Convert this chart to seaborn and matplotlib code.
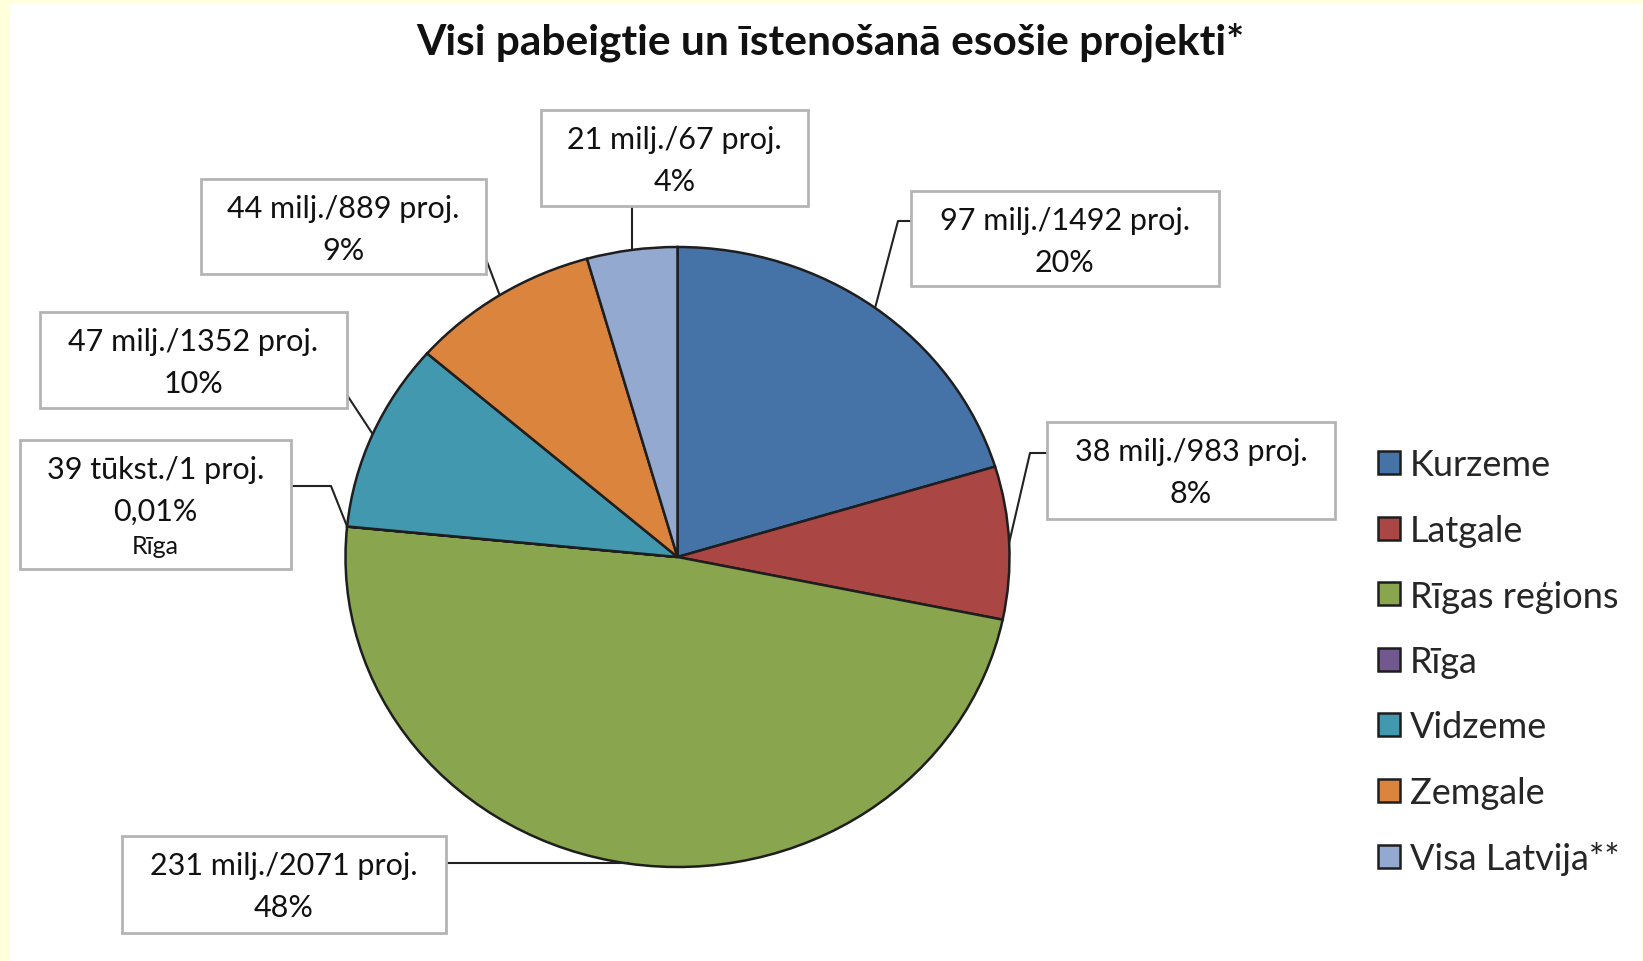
"""
Pie chart: all finished and ongoing projects by region.
"""

import matplotlib
matplotlib.use("Agg")
import numpy as np
import matplotlib.pyplot as plt
from matplotlib.patches import Rectangle
import seaborn as sns

sns.set_theme(style="white")
plt.rcParams["font.family"] = ["Lato", "DejaVu Sans"]

# data
regions = ["Kurzeme", "Latgale", "Rīgas reģions", "Rīga", "Vidzeme", "Zemgale", "Visa Latvija**"]
amount_mln = [97, 38, 231, 0.039, 47, 44, 21]
amount_labels = ["97 milj.", "38 milj.", "231 milj.", "39 tūkst.", "47 milj.", "44 milj.", "21 milj."]
projects = [1492, 983, 2071, 1, 1352, 889, 67]
pct_labels = ["20%", "8%", "48%", "0,01%", "10%", "9%", "4%"]
colors = ["#4572A7", "#AA4643", "#89A54E", "#71588F", "#4198AF", "#DB843D", "#93A9CF"]
title = "Visi pabeigtie un īstenošanā esošie projekti*"

# layout (figure pixels, y from top)
W, H = 1643, 962
CX, CY, RX, RY = 677.5, 558, 332, 310
boxes = [  # x0, y0, x1, y1
    (911, 192, 1219, 287),
    (1047, 423, 1335, 520),
    (122, 837, 446, 934),
    (20, 441, 291, 570),
    (40, 313, 347, 409),
    (201, 180, 486, 275),
    (541, 111, 808, 207),
]


def X(px):
    return (px - CX) / RX


def Y(py):
    return (CY - py) / RY


fig = plt.figure(figsize=(W / 100, H / 100), dpi=100, facecolor="#FFFFDC")
ax = fig.add_axes([0, 0, 1, 1])
ax.set_facecolor("none")

wedges, _ = ax.pie(amount_mln, colors=colors, startangle=90, counterclock=False,
                   radius=1, center=(0, 0),
                   wedgeprops=dict(edgecolor="#1e1e1e", linewidth=1.8))
ax.set_xlim(X(0), X(W))
ax.set_ylim(Y(H), Y(0))
ax.set_aspect("auto")
ax.axis("off")

# white plot area inside the yellow frame
ax.add_patch(Rectangle((X(10), Y(H)), 1631 / RX, 957 / RY,
                       facecolor="white", edgecolor="none", zorder=-5))

# anchors on pie edge (pixels)
anchors = []
for w in wedges:
    mid = np.deg2rad((w.theta1 + w.theta2) / 2)
    anchors.append((CX + RX * np.cos(mid), CY - RY * np.sin(mid)))

leaders = [
    [(898, 222), (911, 222)],
    [(1030, 454), (1047, 454)],
    [(446, anchors[2][1])],
    [(331, 487), (291, 487)],
    [(347, 396)],
    [(486, 260)],
    [(anchors[6][0], 207)],
]

for i, (x0, y0, x1, y1) in enumerate(boxes):
    ax.add_patch(Rectangle((X(x0), Y(y1)), (x1 - x0) / RX, (y1 - y0) / RY,
                           facecolor="white", edgecolor="#b4b4b4", linewidth=2, zorder=3))
    pts = [anchors[i]] + leaders[i]
    ax.plot([X(p[0]) for p in pts], [Y(p[1]) for p in pts], color="#222222", lw=1.5, zorder=2)
    xc = (x0 + x1) / 2
    line1 = f"{amount_labels[i]}/{projects[i]} proj."
    ax.text(X(xc), Y(y0 + 29), line1, ha="center", va="center", fontsize=22, color="#111111", zorder=4)
    ax.text(X(xc), Y(y0 + 71), pct_labels[i], ha="center", va="center", fontsize=22, color="#111111", zorder=4)
    if regions[i] == "Rīga":
        ax.text(X(xc), Y(y0 + 106), regions[i], ha="center", va="center", fontsize=18, color="#111111", zorder=4)

ax.text(X(830), Y(42), title, ha="center", va="center", fontsize=30.5, fontweight="bold", color="#111111")

fig.legend(wedges, regions, loc="upper left", bbox_to_anchor=(1345 / W, 1 - 417 / H),
           frameon=False, fontsize=26, handlelength=0.62, handleheight=0.62,
           handletextpad=0.28, labelspacing=0.9)

plt.savefig("out.png", dpi=100, facecolor=fig.get_facecolor())
plt.close()
